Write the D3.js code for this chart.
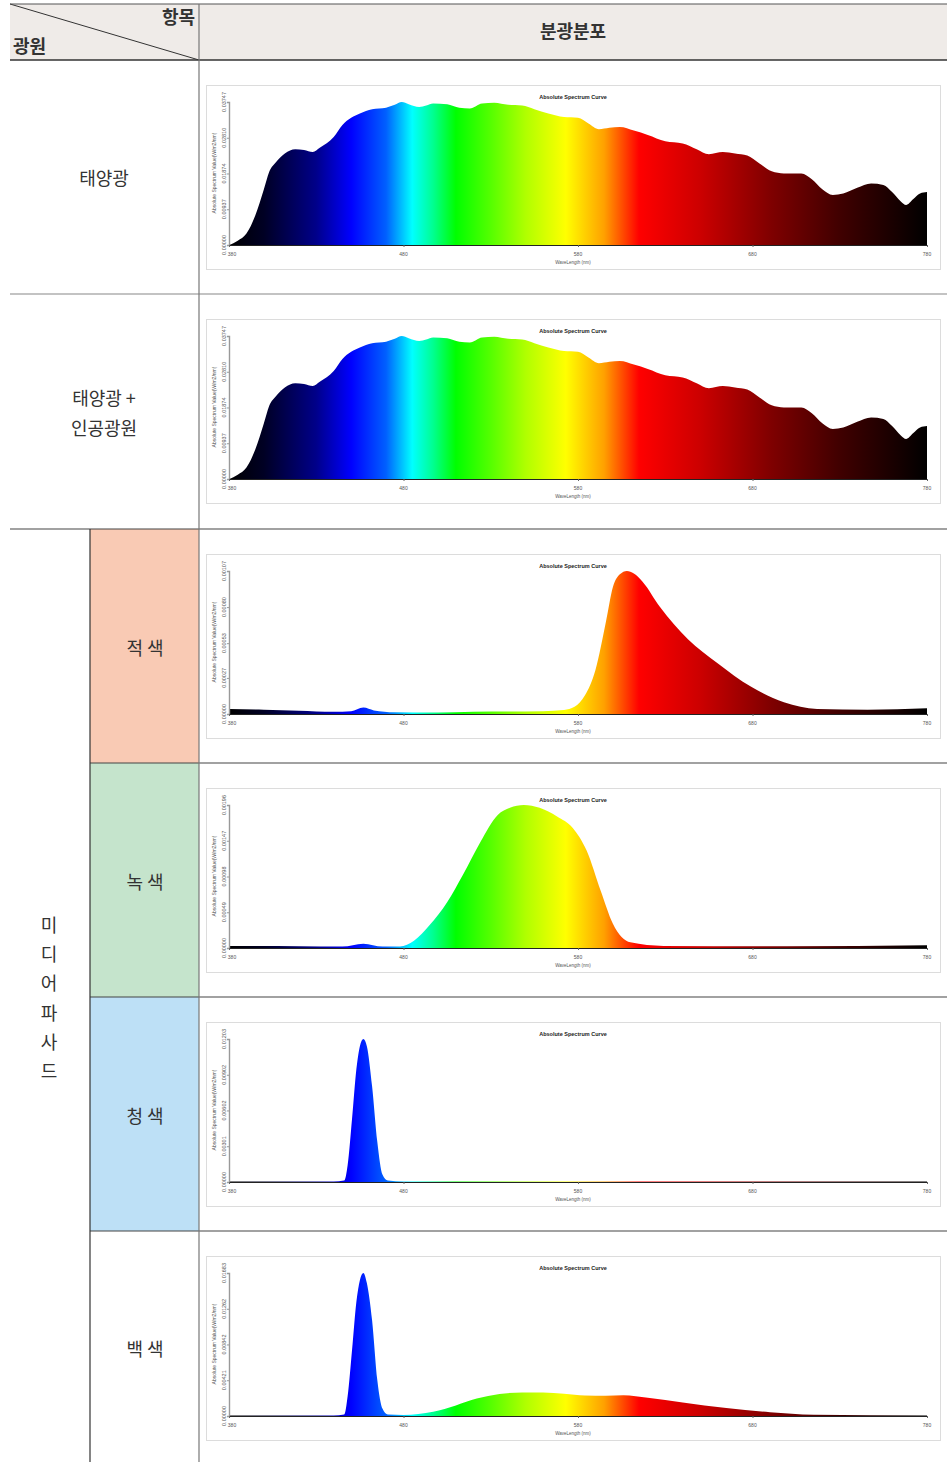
<!DOCTYPE html>
<html>
<head>
<meta charset="utf-8">
<script src="https://cdn.jsdelivr.net/npm/d3@7"></script>
<style>
body { margin: 0; background: #fff; }
svg { display: block; }
</style>
</head>
<body>
<div id="c"></div>
<script>
"use strict";

// ---- data ----
const xTicks = [380, 480, 580, 680, 780]

// 태양광
const sunWl = [380, 385, 390, 395, 400, 403, 407, 412, 418, 423, 428, 432, 440, 445, 450, 455, 462, 470, 475, 479,
    483, 489, 493, 497, 505, 512, 518, 525, 532, 540, 548, 555, 563, 572, 580, 586, 592, 598, 604, 612,
    620, 630, 640, 648, 655, 663, 670, 677, 684, 691, 698, 708, 714, 720, 726, 732, 740, 748, 755, 760,
    765, 768, 772, 776, 780]
const sunVal = [0.00000, 0.00112, 0.00300, 0.00768, 0.01461, 0.01911, 0.02174, 0.02398, 0.02510, 0.02492,
    0.02436, 0.02548, 0.02829, 0.03147, 0.03335, 0.03447, 0.03560, 0.03597, 0.03672, 0.03747,
    0.03691, 0.03616, 0.03653, 0.03710, 0.03691, 0.03597, 0.03578, 0.03710, 0.03728, 0.03672,
    0.03653, 0.03560, 0.03447, 0.03354, 0.03335, 0.03185, 0.03035, 0.03073, 0.03091, 0.02998,
    0.02885, 0.02717, 0.02660, 0.02510, 0.02379, 0.02436, 0.02398, 0.02342, 0.02136, 0.01930,
    0.01874, 0.01874, 0.01724, 0.01461, 0.01311, 0.01349, 0.01499, 0.01611, 0.01574, 0.01386,
    0.01143, 0.01049, 0.01199, 0.01349, 0.01386]
const sunTicks = [0, 0.00937, 0.01874, 0.02810, 0.03747]

// 태양광 + 인공광원
const mixWl = sunWl
const mixVal = [0.00000, 0.00112, 0.00300, 0.00768, 0.01461, 0.01911, 0.02174, 0.02398, 0.02510, 0.02492,
    0.02436, 0.02548, 0.02829, 0.03147, 0.03335, 0.03447, 0.03560, 0.03597, 0.03672, 0.03747,
    0.03691, 0.03616, 0.03653, 0.03710, 0.03691, 0.03597, 0.03578, 0.03710, 0.03728, 0.03672,
    0.03653, 0.03560, 0.03447, 0.03354, 0.03335, 0.03185, 0.03035, 0.03073, 0.03091, 0.02998,
    0.02885, 0.02717, 0.02660, 0.02510, 0.02379, 0.02436, 0.02398, 0.02342, 0.02136, 0.01930,
    0.01874, 0.01874, 0.01724, 0.01461, 0.01311, 0.01349, 0.01499, 0.01611, 0.01574, 0.01386,
    0.01143, 0.01049, 0.01199, 0.01349, 0.01386]
const mixTicks = sunTicks

// 적색
const redWl = [380, 400, 420, 440, 450, 457, 463, 475, 500, 520, 560, 572, 578, 584, 590, 596, 600, 604, 608, 612,
    617, 627, 643, 660, 679, 698, 717, 746, 780]
const redVal = [0.000037, 0.000032, 0.000024, 0.000016, 0.000021, 0.000048, 0.000027, 0.000013, 0.000011, 0.000016,
    0.000021, 0.000030, 0.000054, 0.000140, 0.000330, 0.000690, 0.000950, 0.001045, 0.001070, 0.001052,
    0.000990, 0.000800, 0.000560, 0.000380, 0.000205, 0.000088, 0.000038, 0.000032, 0.000043]
const redTicks = [0, 0.00027, 0.00053, 0.00080, 0.00107]

// 녹색
const greenWl = [380, 420, 445, 457, 468, 478, 486, 495, 505, 514, 524, 534, 541, 549, 558, 568, 577, 585, 593, 600,
    610, 629, 700, 780]
const greenVal = [0.000029, 0.000024, 0.000020, 0.000059, 0.000020, 0.000020, 0.000098, 0.000314, 0.000627, 0.001000,
    0.001450, 0.001823, 0.001921, 0.001960, 0.001921, 0.001803, 0.001646, 0.001333, 0.000784, 0.000333,
    0.000078, 0.000029, 0.000024, 0.000039]
const greenTicks = [0, 0.00049, 0.00098, 0.00147, 0.00196]

// 청색
const blueWl = [380, 440, 446, 448, 450.5, 453, 455, 457, 459, 462, 465, 468, 471, 480, 780]
const blueVal = [0.000036, 0.000036, 0.00012, 0.00144, 0.00529, 0.00950, 0.01143, 0.01203, 0.01143, 0.00806,
    0.00337, 0.00060, 0.00012, 0.000036, 0.000036]
const blueTicks = [0, 0.00301, 0.00602, 0.00902, 0.01203]

// 백색
const whiteWl = [380, 440, 446, 448, 450.5, 453, 455, 457, 459, 462, 465, 468, 471, 480, 497, 510, 522, 535, 548, 560,
    572, 584, 596, 606, 620, 640, 665, 690, 715, 780]
const whiteVal = [0.00005, 0.00005, 0.00017, 0.00236, 0.00774, 0.01346, 0.01599, 0.01683, 0.01565, 0.01128,
    0.00421, 0.00084, 0.00017, 0.00013, 0.00050, 0.00125, 0.00205, 0.00258, 0.00278, 0.00276,
    0.00262, 0.00240, 0.00238, 0.00244, 0.00215, 0.00160, 0.00094, 0.00045, 0.00015, 0.00005]
const whiteTicks = [0, 0.00421, 0.00842, 0.01262, 0.01683]

// spectrum colour ramp for the fill
const rampWl = [380, 400, 430, 450, 470, 485, 497, 510, 530, 550, 573, 595, 615, 650, 690, 730, 780]
const rampColor = ['#000000', '#000024', '#00008a', '#0000ff', '#0060ff', '#00ffff', '#00ff90', '#00ff00',
    '#55ff00', '#b0ff00', '#ffff00', '#ffa000', '#ff0000', '#cc0000', '#800000', '#400000', '#000000']

// table texts
const headerLeftTop = "항목"
const headerLeftBottom = "광원"
const headerRight = "분광분포"
const groupLabel = ["미", "디", "어", "파", "사", "드"]
const subLabels = ["적 색", "녹 색", "청 색", "백 색"]
const subColors = ['#f9cab4', '#c5e4cc', '#bde0f6', '#ffffff']

const series = [
    { wl: sunWl, val: sunVal, ticks: sunTicks },
    { wl: mixWl, val: mixVal, ticks: mixTicks },
    { wl: redWl, val: redVal, ticks: redTicks },
    { wl: greenWl, val: greenVal, ticks: greenTicks },
    { wl: blueWl, val: blueVal, ticks: blueTicks },
    { wl: whiteWl, val: whiteVal, ticks: whiteTicks },
]

// ---- layout ----
const W = 950, H = 1462
const tableL = 10, tableR = 947
const colA = 90, colB = 199
const headTop = 4, headBottom = 60
const rowTops = [60, 294, 529, 763, 997, 1231, 1462]

const korFont = '"Noto Sans CJK KR", "Noto Sans", sans-serif'
const latFont = '"Liberation Sans", Arial, sans-serif'

const svg = d3.select('#c').append('svg')
    .attr('width', W).attr('height', H)

// backgrounds
svg.append('rect')
    .attr('x', tableL).attr('y', headTop)
    .attr('width', tableR - tableL).attr('height', headBottom - headTop)
    .attr('fill', '#efebe8')

subColors.forEach((c, i) => {
    svg.append('rect')
        .attr('x', colA).attr('y', rowTops[i + 2])
        .attr('width', colB - colA).attr('height', rowTops[i + 3] - rowTops[i + 2])
        .attr('fill', c)
})

// header texts
svg.append('line')
    .attr('x1', tableL).attr('y1', headTop)
    .attr('x2', colB).attr('y2', headBottom)
    .attr('stroke', '#333').attr('stroke-width', 1)

svg.append('text').text(headerLeftTop)
    .attr('x', 195).attr('y', 24)
    .attr('text-anchor', 'end')
    .style('font-family', korFont).style('font-weight', 700).style('font-size', '18px')
    .attr('fill', '#333')
svg.append('text').text(headerLeftBottom)
    .attr('x', 13).attr('y', 53)
    .style('font-family', korFont).style('font-weight', 700).style('font-size', '18px')
    .attr('fill', '#333')
svg.append('text').text(headerRight)
    .attr('x', (colB + tableR) / 2).attr('y', 38)
    .attr('text-anchor', 'middle')
    .style('font-family', korFont).style('font-weight', 700).style('font-size', '18px')
    .attr('fill', '#333')

// row labels
const bodyText = (txt, x, y) => svg.append('text').text(txt)
    .attr('x', x).attr('y', y)
    .attr('text-anchor', 'middle')
    .attr('dominant-baseline', 'central')
    .style('font-family', korFont).style('font-size', '18px')
    .attr('fill', '#333')

bodyText("태양광", 104, 177)
bodyText("태양광 +", 104, 397)
bodyText("인공광원", 104, 427)
groupLabel.forEach((ch, i) => bodyText(ch, 49, 924 + i * 29.2))
subLabels.forEach((s, i) => bodyText(s, 145, (rowTops[i + 2] + rowTops[i + 3]) / 2 + 1))

// table lines
const hline = (y, x1, x2, color, w) => svg.append('line')
    .attr('x1', x1).attr('x2', x2).attr('y1', y).attr('y2', y)
    .attr('stroke', color).attr('stroke-width', w)
const vline = (x, y1, y2, color, w) => svg.append('line')
    .attr('x1', x).attr('x2', x).attr('y1', y1).attr('y2', y2)
    .attr('stroke', color).attr('stroke-width', w)

hline(headTop, tableL, tableR, '#555', 1.2)
hline(headBottom, tableL, tableR, '#333', 1.6)
hline(rowTops[1], tableL, tableR, '#888', 1.2)
hline(rowTops[2], tableL, tableR, '#444', 1.2)
for (let i = 3; i < 6; i++) hline(rowTops[i], colA, tableR, '#444', 1.2)
vline(colB, headTop, H, '#777', 1.2)
vline(colA, rowTops[2], H, '#333', 1.2)

// ---- spectra ----
const xScale = d3.scaleLinear().domain([380, 780]).range([229, 927])

const defs = svg.append('defs')
const grad = defs.append('linearGradient')
    .attr('id', 'spec')
    .attr('gradientUnits', 'userSpaceOnUse')
    .attr('x1', xScale(380)).attr('x2', xScale(780))
    .attr('y1', 0).attr('y2', 0)
rampWl.forEach((w, i) => {
    grad.append('stop')
        .attr('offset', (xScale(w) - xScale(380)) / (xScale(780) - xScale(380)))
        .attr('stop-color', rampColor[i])
})

series.forEach((s, i) => {
    const top = rowTops[i]
    const g = svg.append('g')

    // panel
    g.append('rect')
        .attr('x', 206.5).attr('y', top + 25.5)
        .attr('width', 734).attr('height', 184)
        .attr('fill', '#fff')
        .attr('stroke', '#dcdcdc').attr('stroke-width', 1)

    const yMax = s.ticks[s.ticks.length - 1]
    const yScale = d3.scaleLinear().domain([0, yMax]).range([top + 185, top + 42])

    const pts = s.wl.map((w, k) => ({ wl: w, v: s.val[k] }))
    g.append('path')
        .datum(pts)
        .attr('fill', 'url(#spec)')
        .attr('d', d3.area()
            .x(d => xScale(d.wl))
            .y0(yScale(0))
            .y1(d => yScale(d.v))
            .curve(d3.curveMonotoneX))

    // y axis
    const yAxis = g.append('g')
        .attr('transform', 'translate(' + xScale(380) + ',0)')
        .call(d3.axisLeft(yScale).tickValues(s.ticks).tickSize(2).tickFormat(''))
    yAxis.select('.domain').attr('stroke', '#999').attr('stroke-width', 1.4)
    yAxis.selectAll('.tick line').attr('stroke', '#999')

    s.ticks.forEach(t => {
        g.append('text').text(d3.format('.5f')(t))
            .attr('transform', 'translate(226,' + yScale(t) + ') rotate(-90)')
            .attr('text-anchor', 'middle')
            .style('font-family', latFont).style('font-size', '5.5px')
            .attr('fill', '#555')
    })
    g.append('text').text('Absolute Spectrum Value(W/m2/nm)')
        .attr('transform', 'translate(216,' + (top + 113) + ') rotate(-90)')
        .attr('text-anchor', 'middle')
        .style('font-family', latFont).style('font-size', '5px')
        .attr('fill', '#555')

    // x axis
    const xAxis = g.append('g')
        .attr('transform', 'translate(0,' + yScale(0) + ')')
        .call(d3.axisBottom(xScale).tickValues(xTicks).tickSize(2).tickFormat(''))
    xAxis.select('.domain').attr('stroke', '#222').attr('stroke-width', 1)
    xAxis.selectAll('.tick line').attr('stroke', '#666')

    xTicks.forEach(t => {
        g.append('text').text(t)
            .attr('x', xScale(t) + (t === 380 ? 3 : 0)).attr('y', yScale(0) + 11)
            .attr('text-anchor', 'middle')
            .style('font-family', latFont).style('font-size', '5px')
            .attr('fill', '#555')
    })
    g.append('text').text('WaveLength (nm)')
        .attr('x', 573).attr('y', yScale(0) + 19)
        .attr('text-anchor', 'middle')
        .style('font-family', latFont).style('font-size', '4.5px')
        .attr('fill', '#555')

    // title
    g.append('text').text('Absolute Spectrum Curve')
        .attr('x', 573).attr('y', top + 39)
        .attr('text-anchor', 'middle')
        .style('font-family', latFont).style('font-size', '5.5px').style('font-weight', 700)
        .attr('fill', '#222')
})
</script>
</body>
</html>
